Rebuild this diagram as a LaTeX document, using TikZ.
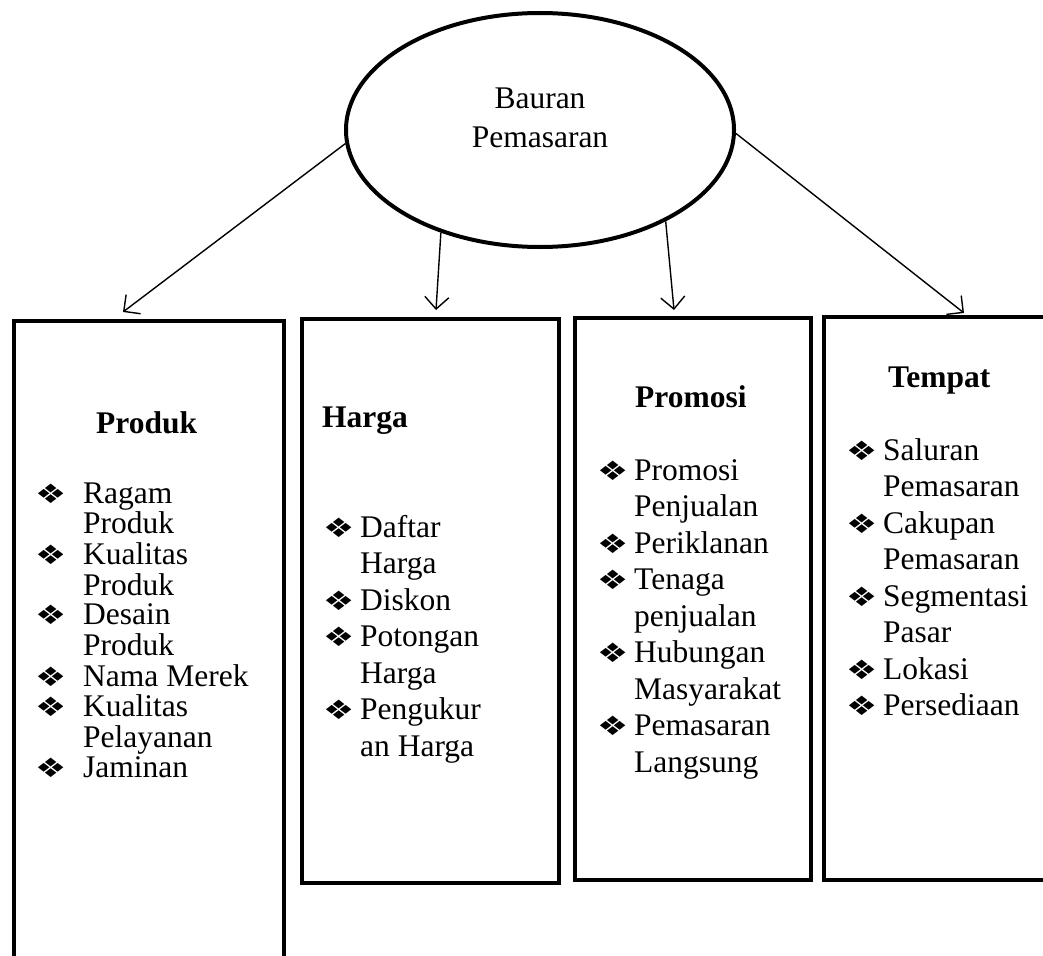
\documentclass[tikz,border=0pt]{standalone}
\usepackage{fontspec}
\setmainfont{Liberation Serif}
\newfontfamily\dejavu{DejaVu Sans}
\usetikzlibrary{arrows.meta,shapes.geometric}
\newcommand\bulglyph{\scalebox{1.2}[0.92]{\fontsize{29}{29}\selectfont\dejavu ❖}}
\newcommand\bulw[1]{\makebox[#1][l]{\hspace{-2pt}\bulglyph}}
\begin{document}
\begin{tikzpicture}[x=1pt,y=-1pt,
  box/.style={draw, line width=4pt, inner sep=0pt, anchor=north west},
  arr/.style={line width=1.4pt, -{Straight Barb[length=12pt,width=24pt,line width=1.4pt]}},
  ttl/.style={font=\fontsize{31.5}{36}\selectfont\bfseries, anchor=base west, inner sep=0pt},
  lst/.style={anchor=base west, inner sep=0pt},
  lstfont/.style={font=\fontsize{31.5}{36.5}\selectfont},
  lstfontp/.style={font=\fontsize{31.5}{29.5}\selectfont}
]
\useasboundingbox (0,0) rectangle (1043,955);
\clip (0,0) rectangle (1043,955);

% central ellipse
\node[draw, ellipse, line width=4pt, minimum width=388pt, minimum height=234pt, inner sep=0pt] (ell) at (540,130) {};
\node[anchor=base, inner sep=0pt, font=\fontsize{31.5}{39}\selectfont] (elltext) at (540,109)
  {\begin{tabular}[t]{@{}c@{}}Bauran\\Pemasaran\end{tabular}};

% boxes
\node[box, minimum width=270pt, minimum height=700pt] (produk) at (12,319) {};
\node[box, minimum width=257pt, minimum height=564pt] (harga) at (300,317) {};
\node[box, minimum width=236pt, minimum height=562pt] (promosi) at (573,316) {};
\node[box, minimum width=260pt, minimum height=563pt] (tempat) at (822,315) {};

% arrow ends
\coordinate (e1) at (123,312);
\coordinate (e2) at (436,310);
\coordinate (e3) at (674,310);
\coordinate (e4) at (964,313);
\draw[arr] (ell.184.4) -- (e1);
\draw[arr] (ell.226.2) -- (e2);
\draw[arr] (ell.324.7) -- (e3);
\draw[arr] (ell.359.4) -- (e4);

% titles
\node[ttl] (tprod) at (96,433) {Produk};
\node[ttl] (tharga) at (322,427) {Harga};
\node[ttl] (tprom) at (635,407) {Promosi};
\node[ttl] (ttemp) at (888,387) {Tempat};

% lists
\node[lst, lstfontp] (lprod) at (37,503) {\begin{tabular}[t]{@{}l@{}l@{}}
\bulw{46pt} & Ragam\\ & Produk\\
\bulw{46pt} & Kualitas\\ & Produk\\
\bulw{46pt} & Desain\\ & Produk\\
\bulw{46pt} & Nama Merek\\
\bulw{46pt} & Kualitas\\ & Pelayanan\\
\bulw{46pt} & Jaminan
\end{tabular}};

\node[lst, lstfont] (lharga) at (325,537) {\begin{tabular}[t]{@{}l@{}l@{}}
\bulw{35pt} & Daftar\\ & Harga\\
\bulw{35pt} & Diskon\\
\bulw{35pt} & Potongan\\ & Harga\\
\bulw{35pt} & Pengukur\\ & an Harga
\end{tabular}};

\node[lst, lstfont] (lprom) at (599,480) {\begin{tabular}[t]{@{}l@{}l@{}}
\bulw{35pt} & Promosi\\ & Penjualan\\
\bulw{35pt} & Periklanan\\
\bulw{35pt} & Tenaga\\ & penjualan\\
\bulw{35pt} & Hubungan\\ & Masyarakat\\
\bulw{35pt} & Pemasaran\\ & Langsung
\end{tabular}};

\node[lst, lstfont] (ltemp) at (848,460) {\begin{tabular}[t]{@{}l@{}l@{}}
\bulw{35pt} & Saluran\\ & Pemasaran\\
\bulw{35pt} & Cakupan\\ & Pemasaran\\
\bulw{35pt} & Segmentasi\\ & Pasar\\
\bulw{35pt} & Lokasi\\
\bulw{35pt} & Persediaan
\end{tabular}};
\end{tikzpicture}
\end{document}
